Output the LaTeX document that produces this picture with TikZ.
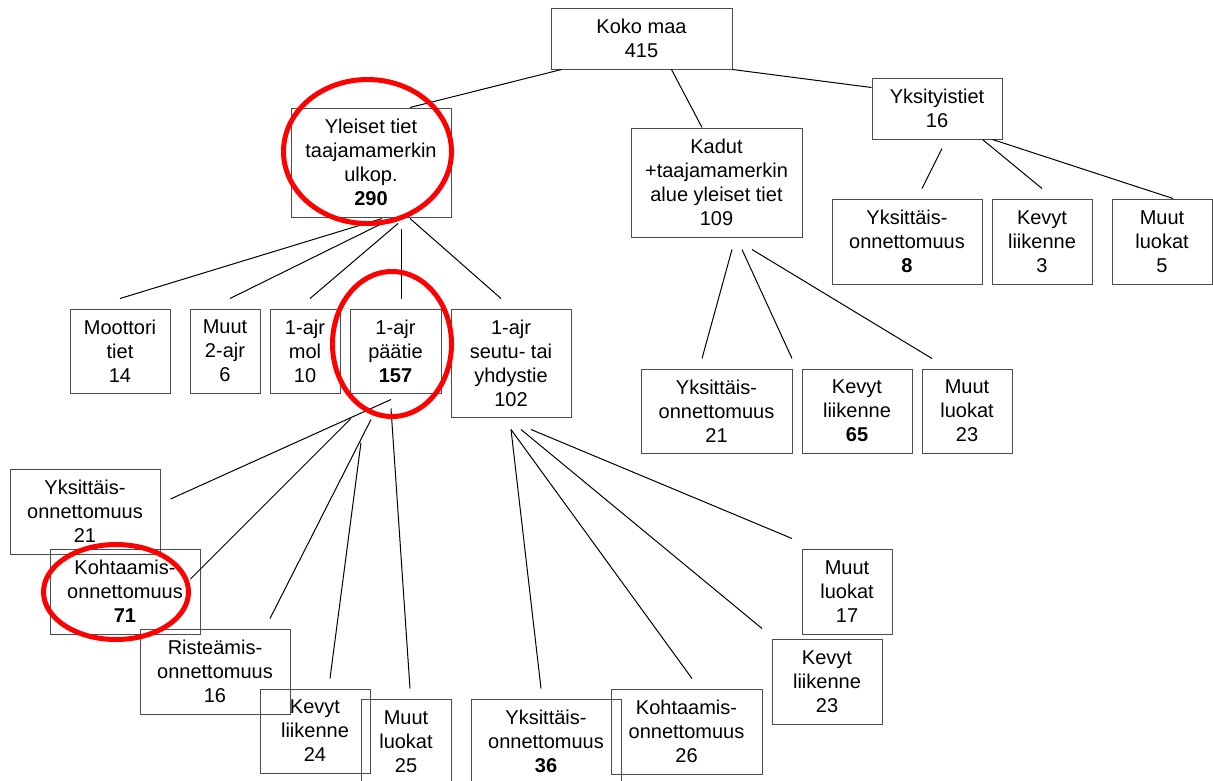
\documentclass[tikz,border=0pt]{standalone}
\usepackage{fontspec}
\setmainfont{Liberation Sans}
\begin{document}
\begin{tikzpicture}[x=1pt,y=-1pt,
  box/.style={draw=black!70, line width=1pt, inner sep=0pt, align=center,
    font=\fontsize{20}{24}\selectfont},
  conn/.style={draw=black, line width=1pt},
  hl/.style={draw=red, line width=5pt}]
\useasboundingbox (0,0) rectangle (1213,780);
% level 0
\node[box, minimum width=181pt, minimum height=61pt] (koko) at (641.5,38.5) {Koko maa\\415};
% level 1
\node[box, minimum width=160pt, minimum height=109pt] (yl) at (371,162.5) {Yleiset tiet\\taajamamerkin\\ulkop.\\\textbf{290}};
\node[box, minimum width=171pt, minimum height=109pt] (kad) at (716.5,182.5) {Kadut\\+taajamamerkin\\alue yleiset tiet\\109};
\node[box, minimum width=130pt, minimum height=61pt] (yks) at (937,108.5) {Yksityistiet\\16};
% Yksityistiet children
\node[box, minimum width=150pt, minimum height=85pt] (y1) at (907,241.5) {Yksittäis-\\onnettomuus\\\textbf{8}};
\node[box, minimum width=100pt, minimum height=85pt] (y2) at (1042,241.5) {Kevyt\\liikenne\\3};
\node[box, minimum width=100pt, minimum height=85pt] (y3) at (1162,241.5) {Muut\\luokat\\5};
% Kadut children
\node[box, minimum width=151pt, minimum height=84pt] (k1) at (716.5,411) {Yksittäis-\\onnettomuus\\21};
\node[box, minimum width=110pt, minimum height=84pt] (k2) at (857,411) {Kevyt\\liikenne\\\textbf{65}};
\node[box, minimum width=90pt, minimum height=84pt] (k3) at (967,411) {Muut\\luokat\\23};
% Yleiset children
\node[box, minimum width=100pt, minimum height=84pt] (mo) at (120,351) {Moottori\\tiet\\14};
\node[box, minimum width=70pt, minimum height=84pt] (m2) at (225,351) {Muut\\2-ajr\\6};
\node[box, minimum width=70pt, minimum height=84pt] (mol) at (305,351) {1-ajr\\mol\\10};
\node[box, minimum width=91pt, minimum height=84pt] (pa) at (395.5,351) {1-ajr\\päätie\\\textbf{157}};
\node[box, minimum width=120pt, minimum height=108pt] (se) at (511,363) {1-ajr\\seutu- tai\\yhdystie\\102};
% paatie children
\node[box, minimum width=150pt, minimum height=85pt] (p1) at (85,511.5) {Yksittäis-\\onnettomuus\\21};
\node[box, minimum width=150pt, minimum height=85pt] (p2) at (125,591.5) {Kohtaamis-\\onnettomuus\\\textbf{71}};
\node[box, minimum width=150pt, minimum height=85pt] (p3) at (215,671.5) {Risteämis-\\onnettomuus\\16};
\node[box, minimum width=110pt, minimum height=84pt] (p4) at (315,731) {Kevyt\\liikenne\\24};
\node[box, minimum width=90pt, minimum height=85pt] (p5) at (406,741.5) {Muut\\luokat\\25};
% seutu children
\node[box, minimum width=150pt, minimum height=85pt] (s1) at (546,741.5) {Yksittäis-\\onnettomuus\\\textbf{36}};
\node[box, minimum width=151pt, minimum height=85pt] (s2) at (686.5,731.5) {Kohtaamis-\\onnettomuus\\26};
\node[box, minimum width=110pt, minimum height=85pt] (s3) at (827,681.5) {Kevyt\\liikenne\\23};
\node[box, minimum width=90pt, minimum height=85pt] (s4) at (847,591.5) {Muut\\luokat\\17};
% connectors
\draw[conn] ([xshift=11pt]koko.south west) -- ([xshift=39pt]yl.north);
\draw[conn] ([xshift=121pt]koko.south west) -- ([xshift=-14.5pt]kad.north);
\draw[conn] (koko.south east) -- ([yshift=-10pt]yks.north west);
\draw[conn] ([xshift=5pt,yshift=-9pt]yks.south) -- ([xshift=15pt,yshift=10pt]y1.north);
\draw[conn] ([xshift=-20pt]yks.south east) -- ([yshift=10pt]y2.north);
\draw[conn] ([xshift=-10pt]yks.south east) -- ([xshift=11pt]y3.north);
\draw[conn] ([xshift=15.5pt,yshift=-12pt]kad.south) -- ([xshift=-14.5pt,yshift=10pt]k1.north);
\draw[conn] ([xshift=25.5pt,yshift=-12pt]kad.south) -- ([xshift=-65pt,yshift=10pt]k2.north);
\draw[conn] ([xshift=35.5pt,yshift=-12pt]kad.south) -- ([xshift=-35pt,yshift=10pt]k3.north);
\draw[conn] ([xshift=11pt,yshift=-1pt]yl.south) -- ([yshift=10pt]mo.north);
\draw[conn] ([xshift=13pt,yshift=-5pt]yl.south) -- ([xshift=5pt,yshift=10pt]m2.north);
\draw[conn] ([xshift=27pt,yshift=-6pt]yl.south) -- ([xshift=5pt,yshift=10pt]mol.north);
\draw[conn] ([xshift=30pt,yshift=-11pt]yl.south) -- ([xshift=5.5pt,yshift=10pt]pa.north);
\draw[conn] ([xshift=39pt,yshift=-1pt]yl.south) -- ([xshift=-10pt,yshift=10pt]se.north);
\draw[conn] ([xshift=-4.5pt,yshift=-6pt]pa.south) -- ([xshift=10pt,yshift=12.5pt]p1.east);
\draw[conn] ([xshift=-44.5pt,yshift=-25pt]pa.south) -- ([xshift=-10pt,yshift=12.5pt]p2.east);
\draw[conn] ([xshift=-24.5pt,yshift=-26pt]pa.south) -- ([xshift=55pt,yshift=10pt]p3.north);
\draw[conn] ([xshift=-34.5pt,yshift=-49pt]pa.south) -- ([xshift=15pt,yshift=10pt]p4.north);
\draw[conn] ([xshift=-4.5pt,yshift=-15pt]pa.south) -- ([xshift=4pt,yshift=10pt]p5.north);
\draw[conn] ([yshift=-12pt]se.south) -- ([xshift=-5pt,yshift=10pt]s1.north);
\draw[conn] ([yshift=-12pt]se.south) -- ([xshift=5.5pt,yshift=10pt]s2.north);
\draw[conn] ([xshift=10pt,yshift=-12pt]se.south) -- ([xshift=-65pt,yshift=10pt]s3.north);
\draw[conn] ([xshift=20pt,yshift=-12pt]se.south) -- ([xshift=-55pt,yshift=10pt]s4.north);
% red highlight ellipses
\draw[hl] (367.5,151.5) ellipse [x radius=84, y radius=72];
\draw[hl] (392,344) ellipse [x radius=59.5, y radius=72.5];
\draw[hl] (116,592) ellipse [x radius=72.5, y radius=47.5];
\end{tikzpicture}
\end{document}
